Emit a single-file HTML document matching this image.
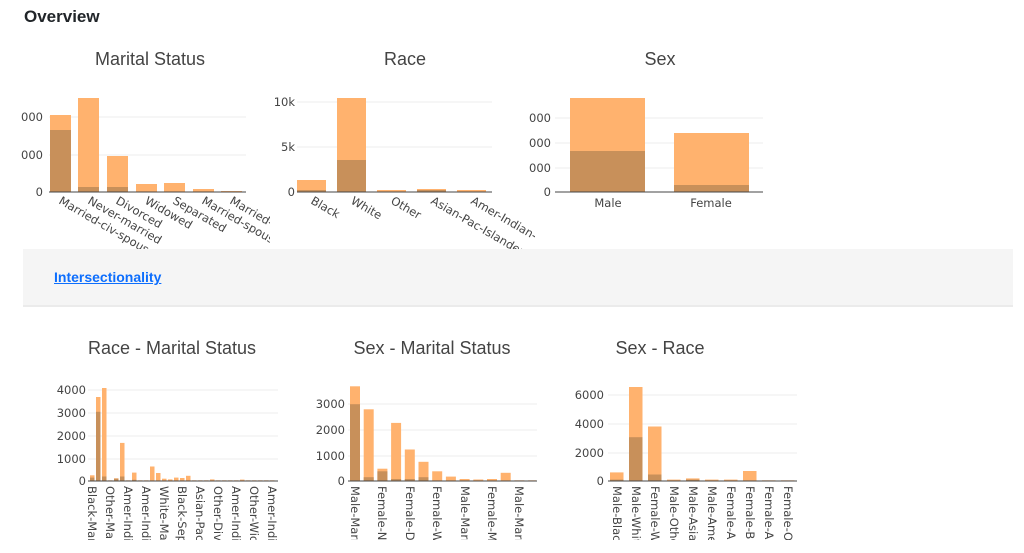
<!DOCTYPE html>
<html><head><meta charset="utf-8"><style>
html,body{margin:0;padding:0;background:#fff;width:1024px;height:553px;overflow:hidden;font-family:"Liberation Sans",sans-serif}
.h{position:absolute;left:24px;top:7px;font-size:17px;font-weight:bold;color:#212529}
.band{position:absolute;left:23px;top:249px;width:990px;height:56px;background:#f5f5f5;border-bottom:2px solid #ebebeb}
.band a{position:absolute;left:31px;top:20px;font-size:14px;font-weight:bold;color:#0d6efd;text-decoration:underline}
svg{position:absolute;left:0;top:0}
text{font-family:"DejaVu Sans",sans-serif;fill:#444}
.t{font-family:"Liberation Sans",sans-serif;font-size:18px;text-anchor:middle}
.y{font-size:11.5px;text-anchor:end}
.x{font-size:11.5px}
.l{fill:#ffb26e}.d{fill:#c8905a}
.g{stroke:#eee;stroke-width:1}
.a{stroke:#444;stroke-width:1}
</style></head><body>
<div class="h">Overview</div>
<svg width="1024" height="553" viewBox="0 0 1024 553">
<defs>
<clipPath id="c1"><rect x="0" y="195" width="270" height="54"/></clipPath>
<clipPath id="c2"><rect x="280" y="195" width="255" height="54"/></clipPath>
<clipPath id="c4"><rect x="80" y="484" width="200" height="56"/></clipPath>
<clipPath id="c5"><rect x="340" y="484" width="200" height="56"/></clipPath>
<clipPath id="c6"><rect x="600" y="484" width="200" height="56"/></clipPath>
</defs>
<!-- Chart 1 Marital Status -->
<text class="t" x="150" y="65">Marital Status</text>
<line class="g" x1="49" y1="155" x2="246" y2="155"/><line class="g" x1="49" y1="117" x2="246" y2="117"/>
<text class="y" x="43" y="159">000</text><text class="y" x="43" y="121">000</text><text class="y" x="43" y="196">0</text>
<rect class="l" x="50" y="115" width="21" height="77"/><rect class="d" x="50" y="130" width="21" height="62"/>
<rect class="l" x="78" y="98" width="21" height="94"/><rect class="d" x="78" y="187" width="21" height="5"/>
<rect class="l" x="107" y="156" width="21" height="36"/><rect class="d" x="107" y="187" width="21" height="5"/>
<rect class="l" x="136" y="184" width="21" height="8"/>
<rect class="l" x="164" y="183" width="21" height="9"/>
<rect class="l" x="193" y="189" width="21" height="3"/>
<rect class="l" x="221" y="191" width="21" height="1"/>
<line class="a" x1="49" y1="192" x2="246" y2="192"/>
<g clip-path="url(#c1)">
<text class="x" transform="translate(58,203) rotate(30)">Married-civ-spouse</text>
<text class="x" transform="translate(87,203) rotate(30)">Never-married</text>
<text class="x" transform="translate(115,203) rotate(30)">Divorced</text>
<text class="x" transform="translate(144,203) rotate(30)">Widowed</text>
<text class="x" transform="translate(172,203) rotate(30)">Separated</text>
<text class="x" transform="translate(201,203) rotate(30)">Married-spouse-absent</text>
<text class="x" transform="translate(229,203) rotate(30)">Married-AF-spouse</text>
</g>
<!-- Chart 2 Race -->
<text class="t" x="405" y="65">Race</text>
<line class="g" x1="297" y1="102" x2="492" y2="102"/><line class="g" x1="297" y1="147" x2="492" y2="147"/>
<text class="y" x="295" y="106">10k</text><text class="y" x="295" y="151">5k</text><text class="y" x="295" y="196">0</text>
<rect class="l" x="297" y="180" width="29" height="12"/><rect class="d" x="297" y="190" width="29" height="2"/>
<rect class="l" x="337" y="98" width="29" height="94"/><rect class="d" x="337" y="160" width="29" height="32"/>
<rect class="l" x="377" y="190" width="29" height="2"/>
<rect class="l" x="417" y="189" width="29" height="3"/><rect class="d" x="417" y="190" width="29" height="2"/>
<rect class="l" x="457" y="190" width="29" height="2"/>
<line class="a" x1="297" y1="192" x2="492" y2="192"/>
<g clip-path="url(#c2)">
<text class="x" transform="translate(310,203) rotate(30)">Black</text>
<text class="x" transform="translate(350,203) rotate(30)">White</text>
<text class="x" transform="translate(390,203) rotate(30)">Other</text>
<text class="x" transform="translate(430,203) rotate(30)">Asian-Pac-Islander</text>
<text class="x" transform="translate(470,203) rotate(30)">Amer-Indian-Eskimo</text>
</g>
<!-- Chart 3 Sex -->
<text class="t" x="660" y="65">Sex</text>
<line class="g" x1="555" y1="118" x2="763" y2="118"/><line class="g" x1="555" y1="143" x2="763" y2="143"/><line class="g" x1="555" y1="168" x2="763" y2="168"/>
<text class="y" x="551" y="122">000</text><text class="y" x="551" y="147">000</text><text class="y" x="551" y="172">000</text><text class="y" x="551" y="196">0</text>
<rect class="l" x="570" y="98" width="75" height="94"/><rect class="d" x="570" y="151" width="75" height="41"/>
<rect class="l" x="674" y="133" width="75" height="59"/><rect class="d" x="674" y="185" width="75" height="7"/>
<line class="a" x1="555" y1="192" x2="763" y2="192"/>
<text class="x" x="608" y="207" text-anchor="middle">Male</text>
<text class="x" x="711" y="207" text-anchor="middle">Female</text>

<!-- Chart 4 Race - Marital Status -->
<text class="t" x="172" y="354">Race - Marital Status</text>
<line class="g" x1="88" y1="390" x2="278" y2="390"/><line class="g" x1="88" y1="413" x2="278" y2="413"/><line class="g" x1="88" y1="436" x2="278" y2="436"/><line class="g" x1="88" y1="459" x2="278" y2="459"/>
<text class="y" x="86" y="394">4000</text><text class="y" x="86" y="417">3000</text><text class="y" x="86" y="440">2000</text><text class="y" x="86" y="463">1000</text><text class="y" x="86" y="485">0</text>
<rect class="l" x="90" y="475.3" width="4.5" height="5.7"/><rect class="d" x="90" y="477.6" width="4.5" height="3.4"/>
<rect class="l" x="96" y="397" width="4.5" height="84"/><rect class="d" x="96" y="411.8" width="4.5" height="69.2"/>
<rect class="l" x="102" y="388" width="4.5" height="93"/><rect class="d" x="102" y="476.5" width="4.5" height="4.5"/>
<rect class="l" x="108" y="480.3" width="4.5" height="0.7"/>
<rect class="l" x="114" y="478.3" width="4.5" height="2.7"/><rect class="d" x="114" y="478.7" width="4.5" height="2.3"/>
<rect class="l" x="120" y="442.9" width="4.5" height="38.1"/><rect class="d" x="120" y="476.5" width="4.5" height="4.5"/>
<rect class="l" x="126" y="480.3" width="4.5" height="0.7"/>
<rect class="l" x="132" y="472.6" width="4.5" height="8.4"/><rect class="d" x="132" y="479.8" width="4.5" height="1.2"/>
<rect class="l" x="138" y="480.3" width="4.5" height="0.7"/>
<rect class="l" x="144" y="480.3" width="4.5" height="0.7"/>
<rect class="l" x="150" y="466.5" width="4.5" height="14.5"/>
<rect class="l" x="156" y="473" width="4.5" height="8"/>
<rect class="l" x="162" y="478.7" width="4.5" height="2.3"/>
<rect class="l" x="168" y="479.4" width="4.5" height="1.6"/>
<rect class="l" x="174" y="477.6" width="4.5" height="3.4"/>
<rect class="l" x="180" y="478" width="4.5" height="3"/>
<rect class="l" x="186" y="475.8" width="4.5" height="5.2"/>
<rect class="l" x="192" y="480.3" width="4.5" height="0.7"/><rect class="l" x="198" y="480.3" width="4.5" height="0.7"/><rect class="l" x="204" y="480.3" width="4.5" height="0.7"/>
<rect class="l" x="210" y="479.4" width="4.5" height="1.6"/><rect class="l" x="216" y="480.3" width="4.5" height="0.7"/><rect class="l" x="222" y="480.3" width="4.5" height="0.7"/>
<rect class="l" x="228" y="480.3" width="4.5" height="0.7"/><rect class="l" x="234" y="480.3" width="4.5" height="0.7"/><rect class="l" x="240" y="479.6" width="4.5" height="1.4"/>
<rect class="l" x="246" y="480.3" width="4.5" height="0.7"/><rect class="l" x="252" y="480.3" width="4.5" height="0.7"/><rect class="l" x="258" y="480.3" width="4.5" height="0.7"/>
<rect class="l" x="264" y="480.3" width="4.5" height="0.7"/><rect class="l" x="270" y="480.3" width="4.5" height="0.7"/>
<line class="a" x1="88" y1="481" x2="278" y2="481"/>
<g clip-path="url(#c4)">
<text class="x" dy="0.35em" transform="translate(92,486) rotate(90)">Black-Married</text>
<text class="x" dy="0.35em" transform="translate(110,486) rotate(90)">Other-Married</text>
<text class="x" dy="0.35em" transform="translate(128,486) rotate(90)">Amer-Indian</text>
<text class="x" dy="0.35em" transform="translate(146,486) rotate(90)">Amer-Indian</text>
<text class="x" dy="0.35em" transform="translate(164,486) rotate(90)">White-Married</text>
<text class="x" dy="0.35em" transform="translate(182,486) rotate(90)">Black-Separated</text>
<text class="x" dy="0.35em" transform="translate(200,486) rotate(90)">Asian-Pac</text>
<text class="x" dy="0.35em" transform="translate(218,486) rotate(90)">Other-Divorced</text>
<text class="x" dy="0.35em" transform="translate(236,486) rotate(90)">Amer-Indian</text>
<text class="x" dy="0.35em" transform="translate(254,486) rotate(90)">Other-Widowed</text>
<text class="x" dy="0.35em" transform="translate(272,486) rotate(90)">Amer-Indian</text>
</g>
<!-- Chart 5 Sex - Marital Status -->
<text class="t" x="432" y="354">Sex - Marital Status</text>
<line class="g" x1="348" y1="404" x2="537" y2="404"/><line class="g" x1="348" y1="430" x2="537" y2="430"/><line class="g" x1="348" y1="456" x2="537" y2="456"/>
<text class="y" x="345" y="408">3000</text><text class="y" x="345" y="434">2000</text><text class="y" x="345" y="460">1000</text><text class="y" x="345" y="485">0</text>
<rect class="l" x="350" y="386.3" width="10" height="94.7"/><rect class="d" x="350" y="404.2" width="10" height="76.8"/>
<rect class="l" x="363.7" y="409.3" width="10" height="71.7"/><rect class="d" x="363.7" y="477.2" width="10" height="3.8"/>
<rect class="l" x="377.4" y="468.7" width="10" height="12.3"/><rect class="d" x="377.4" y="471.3" width="10" height="9.7"/>
<rect class="l" x="391.1" y="422.9" width="10" height="58.1"/><rect class="d" x="391.1" y="479" width="10" height="2"/>
<rect class="l" x="404.8" y="449.5" width="10" height="31.5"/><rect class="d" x="404.8" y="479" width="10" height="2"/>
<rect class="l" x="418.5" y="461.8" width="10" height="19.2"/><rect class="d" x="418.5" y="477.2" width="10" height="3.8"/>
<rect class="l" x="432.2" y="471.3" width="10" height="9.7"/>
<rect class="l" x="445.9" y="476.6" width="10" height="4.4"/>
<rect class="l" x="459.6" y="479" width="10" height="2"/>
<rect class="l" x="473.3" y="479.5" width="10" height="1.5"/>
<rect class="l" x="487" y="479" width="10" height="2"/>
<rect class="l" x="500.7" y="472.8" width="10" height="8.2"/>
<rect class="l" x="514.4" y="480.3" width="10" height="0.7"/>
<rect class="l" x="528.1" y="480.3" width="8" height="0.7"/>
<line class="a" x1="348" y1="481" x2="537" y2="481"/>
<g clip-path="url(#c5)">
<text class="x" dy="0.35em" transform="translate(355,486) rotate(90)">Male-Married</text>
<text class="x" dy="0.35em" transform="translate(382,486) rotate(90)">Female-Never</text>
<text class="x" dy="0.35em" transform="translate(410,486) rotate(90)">Female-Divorced</text>
<text class="x" dy="0.35em" transform="translate(437,486) rotate(90)">Female-Widowed</text>
<text class="x" dy="0.35em" transform="translate(465,486) rotate(90)">Male-Married</text>
<text class="x" dy="0.35em" transform="translate(492,486) rotate(90)">Female-Married</text>
<text class="x" dy="0.35em" transform="translate(519,486) rotate(90)">Male-Married</text>
</g>
<!-- Chart 6 Sex - Race -->
<text class="t" x="660" y="354">Sex - Race</text>
<line class="g" x1="608" y1="395" x2="797" y2="395"/><line class="g" x1="608" y1="424" x2="797" y2="424"/><line class="g" x1="608" y1="453" x2="797" y2="453"/>
<text class="y" x="604" y="399">6000</text><text class="y" x="604" y="428">4000</text><text class="y" x="604" y="457">2000</text><text class="y" x="604" y="485">0</text>
<rect class="l" x="610" y="472.4" width="13.5" height="8.6"/><rect class="d" x="610" y="479.6" width="13.5" height="1.4"/>
<rect class="l" x="629" y="387" width="13.5" height="94"/><rect class="d" x="629" y="437.2" width="13.5" height="43.8"/>
<rect class="l" x="648" y="426.5" width="13.5" height="54.5"/><rect class="d" x="648" y="474.5" width="13.5" height="6.5"/>
<rect class="l" x="667" y="479.6" width="13.5" height="1.4"/>
<rect class="l" x="686" y="478.4" width="13.5" height="2.6"/><rect class="d" x="686" y="479.6" width="13.5" height="1.4"/>
<rect class="l" x="705" y="479.6" width="13.5" height="1.4"/>
<rect class="l" x="724" y="479.6" width="13.5" height="1.4"/>
<rect class="l" x="743" y="471" width="13.5" height="10"/>
<rect class="l" x="762" y="480.3" width="13.5" height="0.7"/>
<rect class="l" x="781" y="480.3" width="13.5" height="0.7"/>
<line class="a" x1="608" y1="481" x2="797" y2="481"/>
<g clip-path="url(#c6)">
<text class="x" dy="0.35em" transform="translate(617,486) rotate(90)">Male-Black</text>
<text class="x" dy="0.35em" transform="translate(636,486) rotate(90)">Male-White</text>
<text class="x" dy="0.35em" transform="translate(655,486) rotate(90)">Female-White</text>
<text class="x" dy="0.35em" transform="translate(674,486) rotate(90)">Male-Other</text>
<text class="x" dy="0.35em" transform="translate(693,486) rotate(90)">Male-Asian</text>
<text class="x" dy="0.35em" transform="translate(712,486) rotate(90)">Male-Amer</text>
<text class="x" dy="0.35em" transform="translate(731,486) rotate(90)">Female-Asian</text>
<text class="x" dy="0.35em" transform="translate(750,486) rotate(90)">Female-Black</text>
<text class="x" dy="0.35em" transform="translate(769,486) rotate(90)">Female-Amer</text>
<text class="x" dy="0.35em" transform="translate(788,486) rotate(90)">Female-Other</text>
</g>
</svg>
<div class="band"><a>Intersectionality</a></div>
</body></html>
